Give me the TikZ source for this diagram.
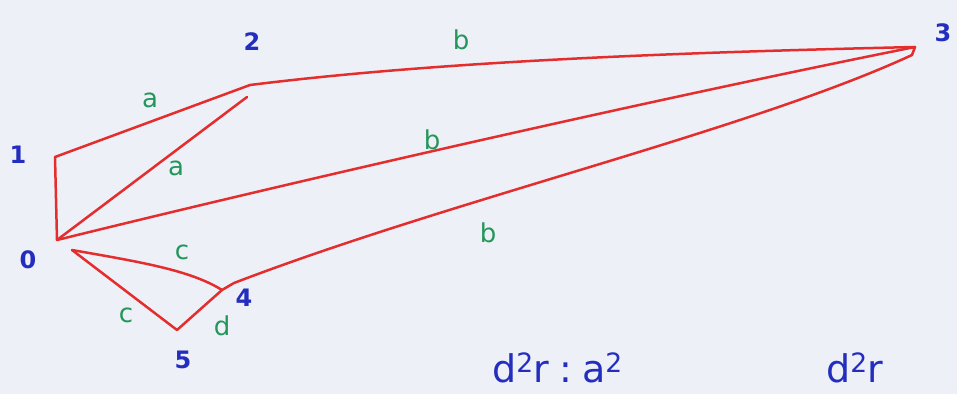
\documentclass[tikz,border=0pt]{standalone}
\usepackage{fontspec}
\setmainfont{DejaVu Sans}
\definecolor{penred}{RGB}{228,45,45}
\definecolor{penblue}{RGB}{35,45,190}
\definecolor{pengreen}{RGB}{35,150,90}
\definecolor{paper}{RGB}{238,240,248}
\begin{document}
\begin{tikzpicture}[x=1pt,y=-1pt,
  edge/.style={draw=penred,line width=2.5pt,line cap=round,line join=round},
  vlab/.style={text=penblue,font=\fontsize{24}{24}\selectfont\bfseries},
  elab/.style={text=pengreen,font=\fontsize{26}{26}\selectfont},
  formula/.style={text=penblue,font=\fontsize{38}{38}\selectfont,anchor=base west,inner sep=0pt}]
\fill[paper] (0,0) rectangle (957,394);
\useasboundingbox (0,0) rectangle (957,394);
% vertices
\coordinate (v0) at (57,240);
\coordinate (v0b) at (72,250);
\coordinate (v1) at (55,157);
\coordinate (v2) at (250,85);
\coordinate (v2b) at (247,97);
\coordinate (v3) at (915,47);
\coordinate (v3b) at (912,55);
\coordinate (v4) at (222,290);
\coordinate (v4b) at (234,283);
\coordinate (v5) at (177,330);
% edges
\draw[edge] (v1) -- (v0);
\draw[edge] (v1) -- (v2);
\draw[edge] (v0) -- (v2b);
\draw[edge] (v2) .. controls (450,60) and (700,52) .. (v3);
\draw[edge] (v0) .. controls (300,180) and (650,100) .. (v3);
\draw[edge] (v0b) .. controls (140,262) and (190,270) .. (v4);
\draw[edge] (v0b) -- (v5);
\draw[edge] (v5) -- (v4);
\draw[edge] (v4) -- (v4b) .. controls (450,200) and (750,130) .. (v3b);
\draw[edge] (v3) -- (v3b);
% vertex labels
\node[vlab] (l0) at (28,260) {0};
\node[vlab] (l1) at (18,155) {1};
\node[vlab] (l2) at (252,42) {2};
\node[vlab] (l3) at (943,33) {3};
\node[vlab] (l4) at (244,298) {4};
\node[vlab] (l5) at (183,360) {5};
% edge labels
\node[elab] (ea1) at (150,100) {a};
\node[elab] (ea2) at (176,168) {a};
\node[elab] (eb1) at (461,40) {b};
\node[elab] (eb2) at (432,140) {b};
\node[elab] (eb3) at (488,233) {b};
\node[elab] (ec1) at (182,252) {c};
\node[elab] (ec2) at (126,315) {c};
\node[elab] (ed) at (222,326) {d};
% formula at the bottom
\node[formula] (f1) at (492,382) {d\textsuperscript{2}r\kern10pt:\kern10pt a\textsuperscript{2}};
\node[formula] (f2) at (826,382) {d\textsuperscript{2}r};
\end{tikzpicture}
\end{document}
